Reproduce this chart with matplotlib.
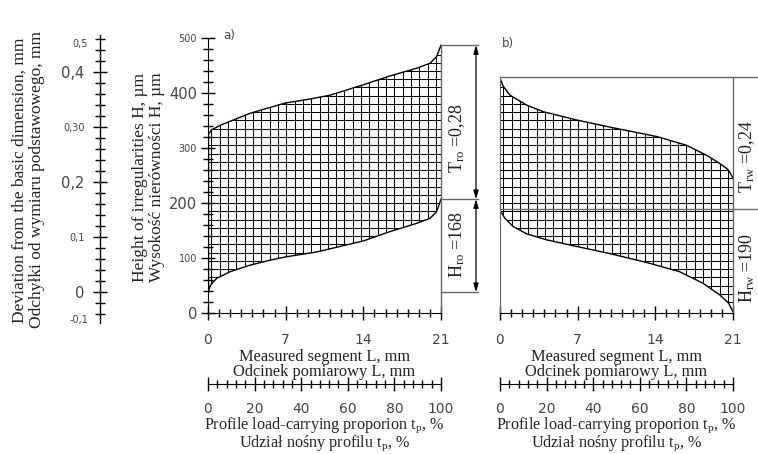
import matplotlib
matplotlib.use('Agg')
import matplotlib.pyplot as plt
import matplotlib.transforms as mtransforms
from matplotlib.ticker import FixedLocator, MultipleLocator
import numpy as np

# ---------------- data ----------------
L_a_up = [0, 0.33, 1.08, 2.28, 3.79, 5.29, 7, 8.9, 11, 14, 16.4, 18.8, 20, 20.6, 21]
H_a_up = [324, 333, 341, 351, 363, 372, 382, 388, 396, 415, 431, 445, 454, 466, 487]
L_a_lo = [0, 0.24, 0.78, 1.98, 3.79, 5.59, 7, 9.8, 11.9, 14, 16.4, 18.8, 20, 20.6, 21]
H_a_lo = [38, 51, 63, 75, 87, 96, 102, 111, 121, 131, 148, 163, 172, 184, 207]

L_b_up = [0, 0.3, 0.9, 2.4, 3.9, 6.9, 9.9, 14.1, 16.8, 18.6, 19.8, 20.6, 21]
H_b_up = [427, 412, 396, 378, 366, 351, 338, 321, 305, 287, 272, 260, 245]
L_b_lo = [0, 0.45, 1.2, 2.4, 4.2, 6.9, 9.9, 13.2, 16.2, 18.3, 19.8, 20.6, 21]
H_b_lo = [187, 172, 157, 144, 133, 121, 108, 92, 75, 54, 33, 18, 2]

# annotation levels (um)
a_top, a_mid, a_bot = 487, 207, 38
b_top, b_mid = 429, 190

L_ticks = [0, 7, 14, 21]
H_ticks = [0, 100, 200, 300, 400, 500]
H_big = [0, 200, 400]
tp_ticks = [0, 20, 40, 60, 80, 100]
dev_ticks = [0, 0.1, 0.2, 0.3, 0.4]
dev_labels = ['0', '0,1', '0,2', '0,30', '0,4']
dev_big = [True, False, True, False, True]
dev_extra = [(0.45, '0,5'), (-0.05, '-0,1')]

txt_a = [r'T$_{\mathrm{ro}}$ =0,28', r'H$_{\mathrm{ro}}$ =168']
txt_b = [r'T$_{\mathrm{rw}}$ =0,24', r'H$_{\mathrm{rw}}$ =190']

# ---------------- style ----------------
plt.rcParams['font.family'] = ['DejaVu Sans']
plt.rcParams['mathtext.fontset'] = 'custom'
plt.rcParams['mathtext.rm'] = 'Liberation Serif'
plt.rcParams['mathtext.it'] = 'Liberation Serif:italic'
SERIF = ['Liberation Serif', 'DejaVu Serif']
TCOL = '#444444'
GREY = '#666666'
DARK = '#222222'

W, H = 758, 454
fig = plt.figure(figsize=(W / 100, H / 100), dpi=100)


def rect(x0, y_top, x1, y_bot):
    return [x0 / W, 1 - y_bot / H, (x1 - x0) / W, (y_bot - y_top) / H]


def px2L(px, x0=208, x1=441):
    return (px - x0) / (x1 - x0) * 21


# ---------- deviation axis ----------
axd = fig.add_axes(rect(100, 35, 101, 323))
axd.set_ylim((292 - 323) / 550, (292 - 35) / 550)
axd.set_xlim(0, 1)
for s in ['top', 'right', 'bottom']:
    axd.spines[s].set_visible(False)
axd.spines['left'].set_linewidth(1.0)
axd.set_xticks([])
axd.yaxis.set_major_locator(FixedLocator(dev_ticks))
axd.yaxis.set_minor_locator(MultipleLocator(0.02))
axd.set_yticklabels(dev_labels)
axd.tick_params(axis='y', which='major', direction='inout', length=10, width=1, pad=6,
                colors='black', labelcolor=TCOL)
axd.tick_params(axis='y', which='minor', direction='inout', length=7, width=1)
for lab, big in zip(axd.get_yticklabels(), dev_big):
    lab.set_fontsize(10.5 if big else 7)
off = mtransforms.ScaledTranslation(-12 / 100, 0, fig.dpi_scale_trans)
for v, s in dev_extra:
    axd.text(0, v, s, transform=axd.get_yaxis_transform() + off, fontsize=7, color=TCOL,
             ha='right', va='center')

fig.text(20 / W, 1 - 180 / H, 'Deviation from the basic dimension, mm', rotation=90,
         ha='center', va='center', family=SERIF, fontsize=12.5, color=DARK)
fig.text(37 / W, 1 - 180 / H, 'Odchyłki od wymiaru podstawowego, mm', rotation=90,
         ha='center', va='center', family=SERIF, fontsize=12.5, color=DARK)
fig.text(140 / W, 1 - 177 / H, 'Height of irregularities H, µm', rotation=90,
         ha='center', va='center', family=SERIF, fontsize=12.5, color=DARK)
fig.text(157 / W, 1 - 177 / H, 'Wysokość nierówności H, µm', rotation=90,
         ha='center', va='center', family=SERIF, fontsize=12.5, color=DARK)


def setup_panel(ax, left_ticks):
    ax.set_xlim(0, 21)
    ax.set_ylim(0, 500)
    ax.patch.set_visible(False)
    for s in ['top', 'right']:
        ax.spines[s].set_visible(False)
    ax.spines['bottom'].set_bounds(0, 21)
    ax.xaxis.set_major_locator(FixedLocator(L_ticks))
    ax.xaxis.set_minor_locator(MultipleLocator(1))
    ax.tick_params(axis='x', which='major', direction='inout', length=10, width=1, pad=9.5,
                   labelsize=10, labelcolor=TCOL)
    ax.tick_params(axis='x', which='minor', direction='inout', length=6, width=1)
    if left_ticks:
        ax.spines['left'].set_bounds(0, 500)
        ax.yaxis.set_major_locator(FixedLocator(H_ticks))
        ax.yaxis.set_minor_locator(MultipleLocator(20))
        ax.tick_params(axis='y', which='major', direction='inout', length=10, width=1, pad=3,
                       labelcolor=TCOL)
        ax.tick_params(axis='y', which='minor', direction='inout', length=7, width=1)
        for lab, t in zip(ax.get_yticklabels(), H_ticks):
            lab.set_fontsize(10.5 if t in H_big else 7)
    else:
        ax.set_yticks([])


def hatched(ax, Lu, Hu, Ll, Hl):
    xs = list(Ll) + list(Lu[::-1])
    ys = list(Hl) + list(Hu[::-1])
    poly, = ax.fill(xs, ys, facecolor='none', edgecolor='none', linewidth=0)
    gx = np.arange(0.3, 21, 0.75)
    gy = np.arange(5, 500, 15)
    v = ax.vlines(gx, 0, 500, colors='black', lw=0.75)
    h = ax.hlines(gy, 0, 21, colors='black', lw=0.75)
    v.set_clip_path(poly)
    h.set_clip_path(poly)
    ax.plot(Lu, Hu, color='black', lw=1.0)
    ax.plot(Ll, Hl, color='black', lw=1.0)


# ---------- panel a ----------
axa = fig.add_axes(rect(208, 38, 441, 313))
setup_panel(axa, True)
hatched(axa, L_a_up, H_a_up, L_a_lo, H_a_lo)
axa.plot([0, 0], [H_a_lo[0], H_a_up[0]], color='black', lw=1.0)
Ld = px2L(476)
Le = px2L(478)
axa.plot([21, 21], [0, a_top], color=GREY, lw=1.0, clip_on=False)
for yv in (a_top, a_mid, a_bot):
    axa.plot([21, Le], [yv, yv], color=GREY, lw=1.0, clip_on=False)
for y0, y1 in ((a_mid, a_top), (a_bot, a_mid)):
    axa.annotate('', xy=(Ld, y1), xytext=(Ld, y0), xycoords='data',
                 arrowprops=dict(arrowstyle='<|-|>,head_length=0.5,head_width=0.15',
                                 color='black', lw=0.9, shrinkA=0, shrinkB=0),
                 annotation_clip=False)
axa.text(px2L(457), 318, txt_a[0], rotation=90, ha='center', va='center',
         fontsize=13, family=SERIF, color=DARK, clip_on=False)
axa.text(px2L(457), 125, txt_a[1], rotation=90, ha='center', va='center',
         fontsize=13, family=SERIF, color=DARK, clip_on=False)
fig.text(229 / W, 1 - 36 / H, 'a)', fontsize=8.5, color=TCOL, ha='center', va='center')

# ---------- panel b ----------
axb = fig.add_axes(rect(500, 38, 733, 313))
setup_panel(axb, False)
axb.spines['left'].set_bounds(0, b_top)
axb.spines['left'].set_color(GREY)
hatched(axb, L_b_up, H_b_up, L_b_lo, H_b_lo)
Lend = px2L(758, 500, 733)
axb.plot([21, 21], [0, b_top], color=GREY, lw=1.0, clip_on=False)
axb.plot([0, Lend], [b_top, b_top], color=GREY, lw=1.0, clip_on=False)
axb.plot([0, Lend], [b_mid, b_mid], color=GREY, lw=1.0, clip_on=False)
axb.text(px2L(747, 500, 733), 284, txt_b[0], rotation=90, ha='center',
         va='center', fontsize=13, family=SERIF, color=DARK, clip_on=False)
axb.text(px2L(747, 500, 733), 82, txt_b[1], rotation=90, ha='center',
         va='center', fontsize=13, family=SERIF, color=DARK, clip_on=False)
fig.text(508 / W, 1 - 44 / H, 'b)', fontsize=8.5, color=TCOL, ha='center', va='center')

# ---------- x labels and tp scales ----------
for x0, x1 in ((208, 441), (500, 733)):
    xc = (x0 + x1) / 2 / W
    fig.text(xc, 1 - 357 / H, 'Measured segment L, mm', ha='center', va='center',
             family=SERIF, fontsize=11.8, color=DARK)
    fig.text(xc, 1 - 372 / H, 'Odcinek pomiarowy L, mm', ha='center', va='center',
             family=SERIF, fontsize=11.8, color=DARK)
    axt = fig.add_axes(rect(x0, 378, x1, 384))
    axt.set_xlim(0, 100)
    axt.patch.set_visible(False)
    for s in ['top', 'right', 'left']:
        axt.spines[s].set_visible(False)
    axt.set_yticks([])
    axt.xaxis.set_major_locator(FixedLocator(tp_ticks))
    axt.xaxis.set_minor_locator(MultipleLocator(4))
    axt.tick_params(axis='x', which='major', direction='inout', length=10, width=1, pad=8,
                    labelsize=10, labelcolor=TCOL)
    axt.tick_params(axis='x', which='minor', direction='inout', length=6, width=1)
    fig.text(xc, 1 - 425 / H, r'Profile load-carrying proporion t$_{\mathrm{p}}$, %',
             ha='center', va='center', family=SERIF, fontsize=11.6, color=DARK)
    fig.text(xc, 1 - 443.5 / H, r'Udział nośny profilu t$_{\mathrm{p}}$, %',
             ha='center', va='center', family=SERIF, fontsize=11.6, color=DARK)

fig.savefig('out.png', dpi=100)
